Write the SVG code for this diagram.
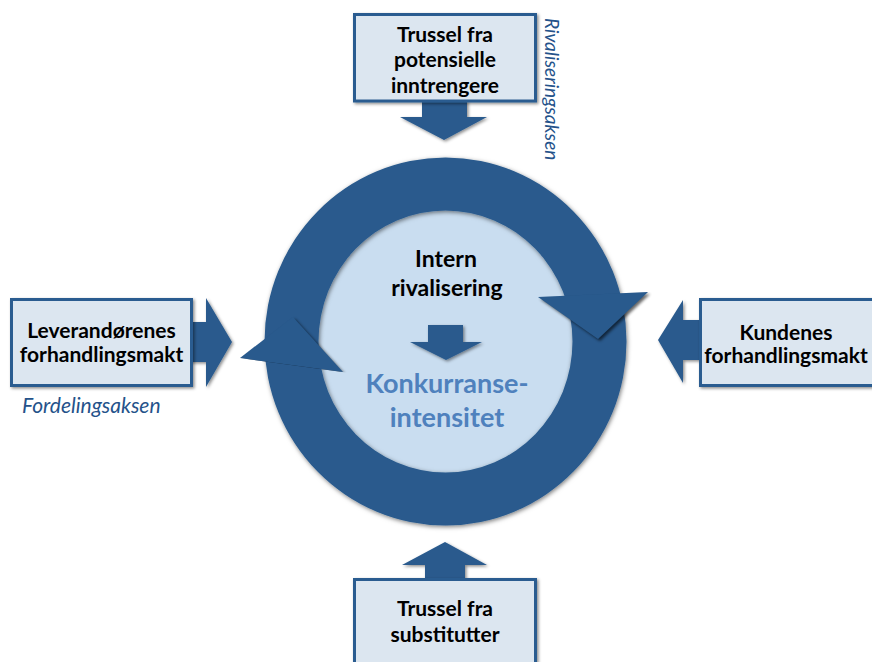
<svg xmlns="http://www.w3.org/2000/svg" width="872" height="662" viewBox="0 0 872 662">
  <style>
    .box { fill: #DCE6F0; stroke: #2C5C90; stroke-width: 3; }
    .dark { fill: #295A8D; }
    .lbl { font-family: Lato, "Liberation Sans", sans-serif; font-weight: bold; font-size: 21px; fill: #000; text-anchor: middle; }
    .mid { font-size: 23px; }
    .axis { font-family: Lato, "Liberation Sans", sans-serif; font-style: italic; font-size: 19px; fill: #24528A; }
    .big { font-family: Lato, "Liberation Sans", sans-serif; font-weight: bold; font-size: 27px; fill: #4F81BD; text-anchor: middle; }
  </style>
  <defs>
    <filter id="sh" x="-20%" y="-20%" width="140%" height="140%">
      <feDropShadow dx="1.5" dy="1.5" stdDeviation="1.6" flood-color="#000" flood-opacity="0.45"/>
    </filter>
    <filter id="ringsh" x="-10%" y="-10%" width="120%" height="120%">
      <feDropShadow dx="1" dy="1.5" stdDeviation="2" flood-color="#000" flood-opacity="0.5"/>
    </filter>
    <filter id="blur" x="-20%" y="-20%" width="140%" height="140%">
      <feGaussianBlur stdDeviation="1.4"/>
    </filter>
    <clipPath id="clipL">
      <polygon points="200,352.6 390,378.5 390,270 200,270"/>
    </clipPath>
    <clipPath id="clipR">
      <polygon points="500,298.7 700,289.6 700,390 500,390"/>
    </clipPath>
  </defs>

  <!-- central circle with the rivalry ring -->
  <g id="core">
    <ellipse cx="445.5" cy="341.5" rx="128" ry="132" fill="#C9DDF0"/>
    <path class="dark" filter="url(#ringsh)" fill-rule="evenodd"
      d="M264.5,341.5 a181,184 0 1,0 362,0 a181,184 0 1,0 -362,0 Z
         M318.5,341.5 a127,131 0 1,0 254,0 a127,131 0 1,0 -254,0 Z"/>
    <!-- arrowhead pointing up on the left -->
    <g clip-path="url(#clipL)">
      <polygon points="240,358 293,317 343,372" fill="#000" opacity="0.6" filter="url(#blur)" transform="translate(2,2)"/>
    </g>
    <polygon class="dark" points="240,358 293,317 343,372"/>
    <!-- arrowhead pointing down on the right -->
    <g clip-path="url(#clipR)">
      <polygon points="538,297 598,339 648,292" fill="#000" opacity="0.6" filter="url(#blur)" transform="translate(2,2)"/>
    </g>
    <polygon class="dark" points="538,297 598,339 648,292"/>
  </g>

  <g id="intern">
    <text class="lbl mid" x="446" y="267">Intern</text>
    <text class="lbl mid" x="447" y="296">rivalisering</text>
  </g>

  <g id="konkurranse">
    <text class="big" x="447" y="393">Konkurranse-</text>
    <text class="big" x="447" y="427">intensitet</text>
  </g>

  <!-- connectors -->
  <g id="connectors" class="dark" filter="url(#sh)">
    <polygon points="428,325 463,325 463,342 482,342 446,360 410,342 428,342"/>
    <polygon points="422,100 467,100 467,117 487,117 444,140 400,117 422,117"/>
    <polygon points="190,322 206,322 206,298 232,342 206,387 206,362 190,362"/>
    <polygon points="702,320 683,320 683,300 658,340 683,383 683,360 702,360"/>
    <polygon points="425,580 425,565 402,565 445,542 487,565 465,565 465,580"/>
  </g>

  <g id="entrants">
    <rect class="box" x="354.5" y="14.5" width="181" height="86.5" filter="url(#sh)"/>
    <text class="lbl" x="445" y="42">Trussel fra</text>
    <text class="lbl" x="445" y="67">potensielle</text>
    <text class="lbl" x="445" y="93">inntrengere</text>
  </g>

  <g id="suppliers">
    <rect class="box" x="11.5" y="299.5" width="180" height="86" filter="url(#sh)"/>
    <text class="lbl" x="101.5" y="338">Leverandørenes</text>
    <text class="lbl" x="101.5" y="362">forhandlingsmakt</text>
  </g>

  <g id="customers">
    <rect class="box" x="700.5" y="299.5" width="190" height="86" filter="url(#sh)"/>
    <text class="lbl" x="786" y="340">Kundenes</text>
    <text class="lbl" x="786" y="363">forhandlingsmakt</text>
  </g>

  <g id="substitutes">
    <rect class="box" x="354.5" y="579.5" width="181" height="100" filter="url(#sh)"/>
    <text class="lbl" x="445" y="616">Trussel fra</text>
    <text class="lbl" x="445" y="642">substitutter</text>
  </g>

  <g id="axes">
    <text class="axis" x="22" y="413" style="font-size:21px">Fordelingsaksen</text>
    <text class="axis" transform="translate(545,18) rotate(90)">Rivaliseringsaksen</text>
  </g>
</svg>
